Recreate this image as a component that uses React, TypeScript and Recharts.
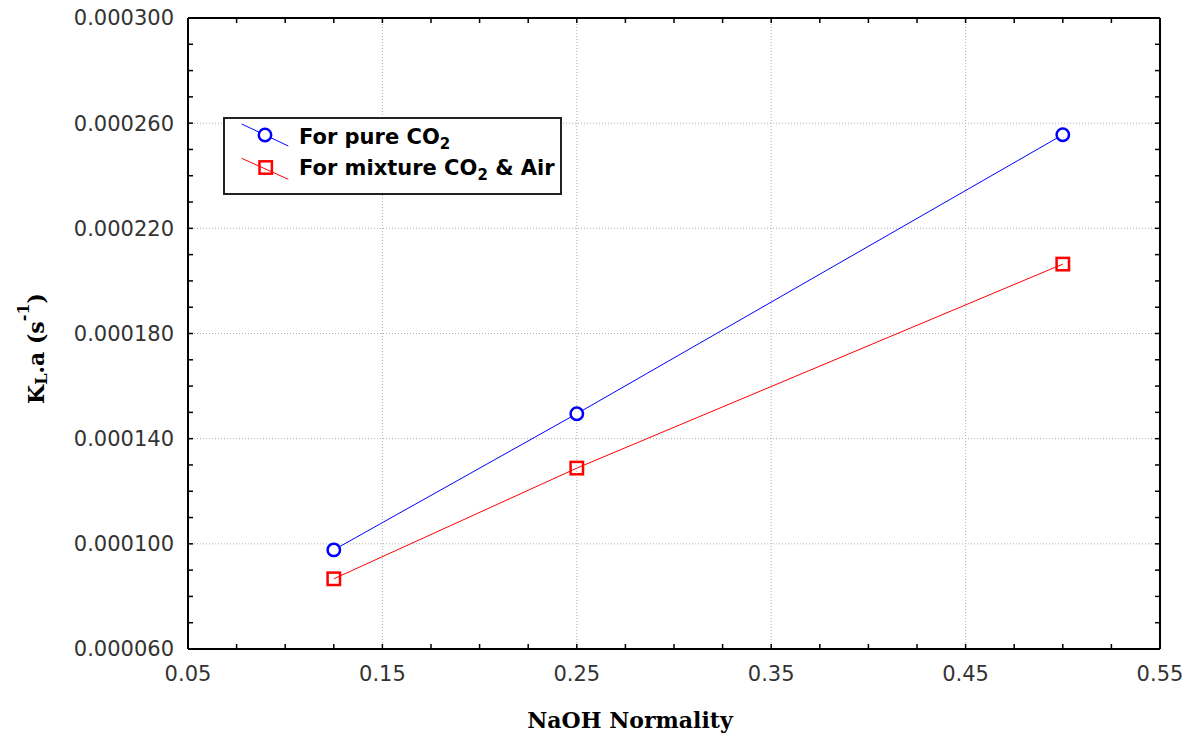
import React from 'react';
import { LineChart, Line, XAxis, YAxis, CartesianGrid, Legend } from 'recharts';

const normality = [0.125, 0.25, 0.5];
const pureCO2 = [0.0000977, 0.0001495, 0.0002556];
const mixtureCO2Air = [0.0000867, 0.0001288, 0.0002064];

const xTicks = [0.05, 0.15, 0.25, 0.35, 0.45, 0.55];
const xMinorTicks = [0.05, 0.075, 0.1, 0.125, 0.15, 0.175, 0.2, 0.225, 0.25, 0.275, 0.3, 0.325, 0.35, 0.375, 0.4, 0.425, 0.45, 0.475, 0.5, 0.525, 0.55];
const yTicks = [0.00006, 0.0001, 0.00014, 0.00018, 0.00022, 0.00026, 0.0003];
const yMinorTicks = [
  0.00006, 0.00007, 0.00008, 0.00009, 0.0001, 0.00011, 0.00012, 0.00013, 0.00014, 0.00015,
  0.00016, 0.00017, 0.00018, 0.00019, 0.0002, 0.00021, 0.00022, 0.00023, 0.00024, 0.00025,
  0.00026, 0.00027, 0.00028, 0.00029, 0.0003,
];

const seriesNames = ['For pure CO', 'For mixture CO'];

const data = normality.map((x, i) => ({ x, pure: pureCO2[i], mixture: mixtureCO2Air[i] }));

const X_DOMAIN: [number, number] = [0.05, 0.55];
const Y_DOMAIN: [number, number] = [0.00006, 0.0003];

// The frame-tick axes (no dataKey) run on the row-index scale [0, n-1];
// map the minor tick values onto that scale so they line up with the value axis.
const INDEX_MAX = data.length - 1;
const xFrameTicks = xMinorTicks.map((v) => ((v - X_DOMAIN[0]) / (X_DOMAIN[1] - X_DOMAIN[0])) * INDEX_MAX);

const BLUE = '#0000ff';
const RED = '#ff0000';
const TICK_LEN = 5;

const tickStyle = { fill: '#333', fontSize: 21, fontFamily: 'DejaVu Sans' };

const CircleDot = (props: any) => {
  const { cx, cy } = props;
  if (cx == null || cy == null) return null;
  return <circle cx={cx} cy={cy} r={6.2} fill="#fff" stroke={BLUE} strokeWidth={2.5} />;
};

const SquareDot = (props: any) => {
  const { cx, cy } = props;
  if (cx == null || cy == null) return null;
  return <rect x={cx - 6.2} y={cy - 6.2} width={12.4} height={12.4} fill="none" stroke={RED} strokeWidth={2.5} />;
};

const EmptyTick = () => <g />;

const YTitle = (props: any) => {
  const vb = props.viewBox || { x: 0, y: 18, width: 188, height: 631 };
  const x = vb.x + 44;
  const y = vb.y + vb.height / 2 + 15;
  return (
    <text
      x={x}
      y={y}
      transform={`rotate(-90 ${x} ${y})`}
      textAnchor="middle"
      fontFamily="DejaVu Serif"
      fontWeight="bold"
      fontSize={22}
      fill="#000"
    >
      <tspan>K</tspan>
      <tspan fontSize={16} dy={3}>L</tspan>
      <tspan dy={-3}>.a (s</tspan>
      <tspan fontSize={16} dy={-15}>-1</tspan>
      <tspan dy={15}>)</tspan>
    </text>
  );
};

const XTitle = (props: any) => {
  const vb = props.viewBox || { x: 188, y: 649, width: 972, height: 89 };
  const x = vb.x + vb.width / 2 - 44;
  const y = vb.y + vb.height - 10;
  return (
    <text x={x} y={y} textAnchor="middle" fontFamily="DejaVu Serif" fontWeight="bold" fontSize={22} fill="#000">
      NaOH Normality
    </text>
  );
};

const LegendBox = () => (
  <svg width={335} height={74} style={{ display: 'block' }}>
    <line x1={16.7} y1={5} x2={63.3} y2={27} stroke={BLUE} strokeWidth={1} />
    <circle cx={40} cy={16} r={6.2} fill="#fff" stroke={BLUE} strokeWidth={2.5} />
    <text x={74} y={25} fontFamily="DejaVu Sans" fontWeight="bold" fontSize={21} fill="#000">
      {seriesNames[0]}
      <tspan fontSize={15} dy={5}>2</tspan>
    </text>
    <line x1={16.7} y1={39.3} x2={63.3} y2={60.3} stroke={RED} strokeWidth={1} />
    <rect x={34.5} y={42.3} width={12.4} height={12.4} fill="none" stroke={RED} strokeWidth={2.5} />
    <text x={74} y={56} fontFamily="DejaVu Sans" fontWeight="bold" fontSize={21} fill="#000">
      {seriesNames[1]}
      <tspan fontSize={15} dy={5}>2</tspan>
      <tspan dy={-5}> &amp; Air</tspan>
    </text>
  </svg>
);

export default function App() {
  return (
    <div style={{ position: 'absolute', left: 0, top: 0, width: 1192, height: 738 }}>
      <LineChart width={1192} height={738} data={data} margin={{ top: 18, right: 32, left: 0, bottom: 0 }}>
        <CartesianGrid stroke="#b0b0b0" strokeDasharray="1 2" strokeWidth={1} />
        <XAxis
          xAxisId={0}
          type="number"
          dataKey="x"
          domain={X_DOMAIN}
          allowDataOverflow
          ticks={xTicks}
          interval={0}
          height={89}
          tickLine={false}
          tickSize={0}
          tickMargin={17}
          axisLine={{ stroke: '#000', strokeWidth: 2 }}
          tick={tickStyle}
          tickFormatter={(v: number) => v.toFixed(2)}
          label={<XTitle />}
        />
        <XAxis
          xAxisId="bm"
          type="number"
          domain={[0, INDEX_MAX]}
          allowDataOverflow
          ticks={xFrameTicks}
          interval={0}
          orientation="bottom"
          mirror
          height={1}
          tick={<EmptyTick />}
          tickSize={TICK_LEN}
          axisLine={false}
          tickLine={{ stroke: '#000', strokeWidth: 1.5 }}
        />
        <XAxis
          xAxisId="tm"
          type="number"
          domain={[0, INDEX_MAX]}
          allowDataOverflow
          ticks={xFrameTicks}
          interval={0}
          orientation="top"
          mirror
          height={1}
          tick={<EmptyTick />}
          tickSize={TICK_LEN}
          axisLine={{ stroke: '#000', strokeWidth: 2 }}
          tickLine={{ stroke: '#000', strokeWidth: 1.5 }}
        />
        <YAxis
          yAxisId={0}
          type="number"
          domain={Y_DOMAIN}
          allowDataOverflow
          ticks={yTicks}
          interval={0}
          width={188}
          tickLine={false}
          tickSize={0}
          tickMargin={14}
          axisLine={{ stroke: '#000', strokeWidth: 2 }}
          tick={tickStyle}
          tickFormatter={(v: number) => v.toFixed(6)}
          label={<YTitle />}
        />
        <YAxis
          yAxisId="lm"
          type="number"
          domain={Y_DOMAIN}
          allowDataOverflow
          ticks={yMinorTicks}
          interval={0}
          orientation="left"
          mirror
          width={1}
          tick={<EmptyTick />}
          tickSize={TICK_LEN}
          axisLine={false}
          tickLine={{ stroke: '#000', strokeWidth: 1.5 }}
        />
        <YAxis
          yAxisId="rm"
          type="number"
          domain={Y_DOMAIN}
          allowDataOverflow
          ticks={yMinorTicks}
          interval={0}
          orientation="right"
          mirror
          width={1}
          tick={<EmptyTick />}
          tickSize={TICK_LEN}
          axisLine={{ stroke: '#000', strokeWidth: 2 }}
          tickLine={{ stroke: '#000', strokeWidth: 1.5 }}
        />
        <Legend
          layout="horizontal"
          verticalAlign="middle"
          align="center"
          content={() => <LegendBox />}
          wrapperStyle={{
            left: 223,
            top: 117,
            width: 339,
            height: 78,
            border: '2px solid #222',
            boxSizing: 'border-box',
            background: '#fff',
          }}
        />
        <Line
          type="linear"
          dataKey="mixture"
          name="For mixture CO2 & Air"
          stroke={RED}
          strokeWidth={1}
          dot={<SquareDot />}
          activeDot={false}
          isAnimationActive={false}
        />
        <Line
          type="linear"
          dataKey="pure"
          name="For pure CO2"
          stroke={BLUE}
          strokeWidth={1}
          dot={<CircleDot />}
          activeDot={false}
          isAnimationActive={false}
        />
      </LineChart>
    </div>
  );
}
